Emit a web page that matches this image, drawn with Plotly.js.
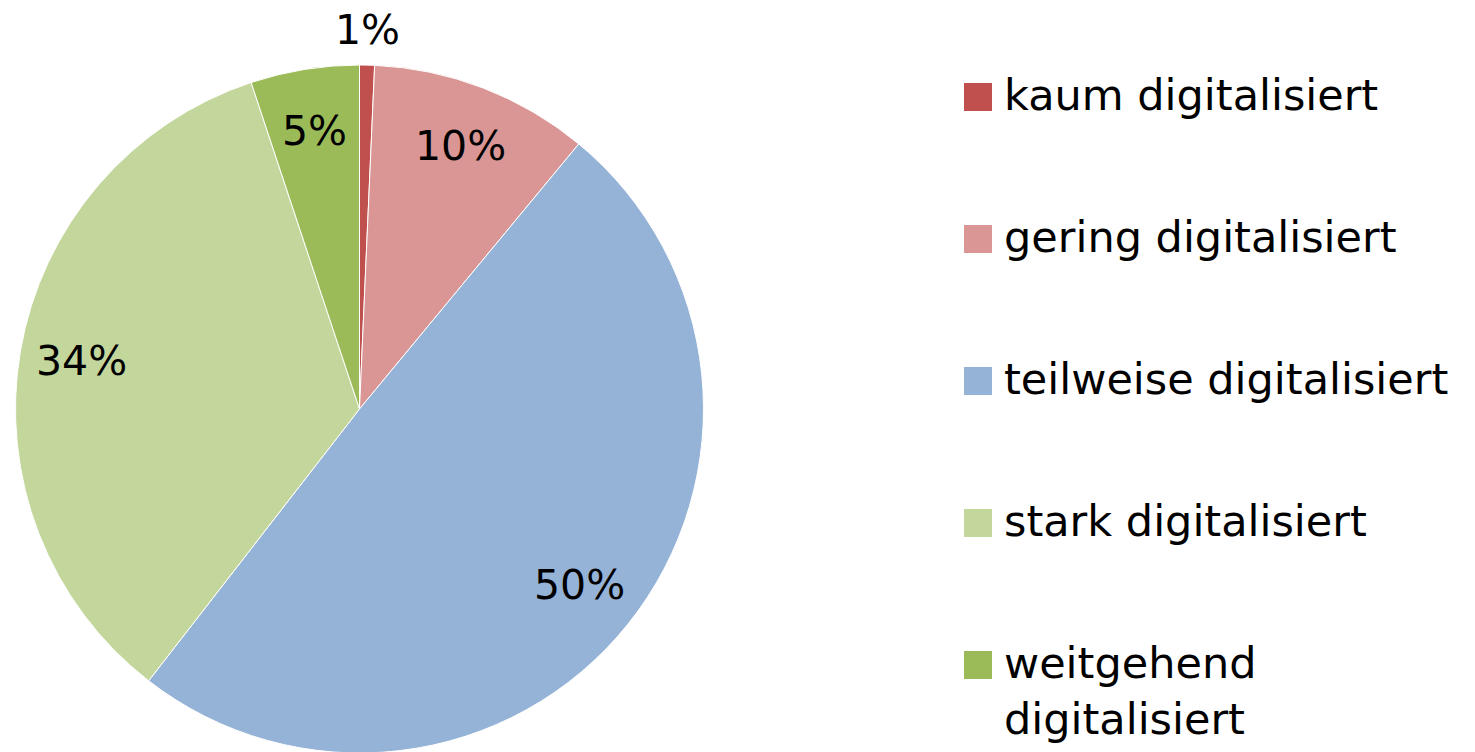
<!DOCTYPE html>
<html>
<head>
<meta charset="utf-8">
<script src="https://cdn.plot.ly/plotly-3.0.1.min.js"></script>
<style>
html,body{margin:0;padding:0;overflow:hidden;background:#fff;}
#chart{width:1475px;height:760px;}
</style>
</head>
<body>
<div id="chart"></div>
<script>
const categories = ["kaum digitalisiert", "gering digitalisiert", "teilweise digitalisiert", "stark digitalisiert", "weitgehend<br>digitalisiert"];
const shares = [0.7, 10.3, 49.5, 34.4, 5.1];
const shareLabels = ["1%", "10%", "50%", "34%", "5%"];
const colors = ["#C0504D", "#D99694", "#95B3D7", "#C3D69B", "#9BBB59"];

const FONT = "'DejaVu Sans', sans-serif";
const FS_LABEL = 41;
const FS_LEGEND = 43;
const W = 1475, H = 760;
const M = {l: 0, r: 0, t: 65, b: 7};
const PW = W - M.l - M.r, PH = H - M.t - M.b;
const dom = {x0: 15.5, x1: 703.5};            // pie domain in px (x)
const R = Math.min(dom.x1 - dom.x0, PH) / 2;  // pie radius as Plotly computes it
const cx = (dom.x0 + dom.x1) / 2, cy = M.t + PH / 2;

// pixel -> paper (plot area) helpers
const px2x = p => (p - M.l) / PW;
const px2y = p => 1 - (p - M.t) / PH;

const trace = {
  type: "pie",
  labels: categories,
  values: shares,
  textinfo: "none",
  sort: false,
  direction: "clockwise",
  rotation: 0,
  marker: {colors: colors, line: {color: "#ffffff", width: 1}},
  domain: {x: [px2x(dom.x0), px2x(dom.x1)], y: [0, 1]},
  showlegend: false,
  hoverinfo: "label+percent"
};

const annotations = [];
const shapes = [];

// percentage labels placed along each slice's bisector (derived from the data)
const total = shares.reduce((a, b) => a + b, 0);
let cum = 0;
shares.forEach((v, i) => {
  const mid = (cum + v / 2) / total * 2 * Math.PI;
  cum += v;
  const inside = v >= 2;
  const r = inside ? 0.82 * R : R + 35;
  const x = cx + r * Math.sin(mid);
  const y = cy - r * Math.cos(mid);
  annotations.push({
    xref: "paper", yref: "paper", x: px2x(x), y: px2y(y),
    xanchor: "center", yanchor: "middle", showarrow: false,
    text: shareLabels[i],
    font: {family: FONT, size: FS_LABEL, color: "#000000"}
  });
});

// custom legend built from the category list
const rowStart = 97, rowStep = 142;
categories.forEach((c, i) => {
  const yc = rowStart + i * rowStep;
  shapes.push({
    type: "rect", xref: "paper", yref: "paper",
    x0: px2x(964), x1: px2x(992),
    y0: px2y(yc - 14), y1: px2y(yc + 14),
    fillcolor: colors[i], line: {width: 0}
  });
  annotations.push({
    xref: "paper", yref: "paper",
    x: px2x(1002), y: px2y(yc - 29),
    xanchor: "left", yanchor: "top", align: "left",
    showarrow: false,
    text: c,
    font: {family: FONT, size: FS_LEGEND, color: "#000000"}
  });
});

const layout = {
  width: W, height: H,
  margin: M,
  paper_bgcolor: "#ffffff",
  showlegend: false,
  annotations: annotations,
  shapes: shapes
};

Plotly.newPlot("chart", [trace], layout, {staticPlot: true, displayModeBar: false});
</script>
</body>
</html>
